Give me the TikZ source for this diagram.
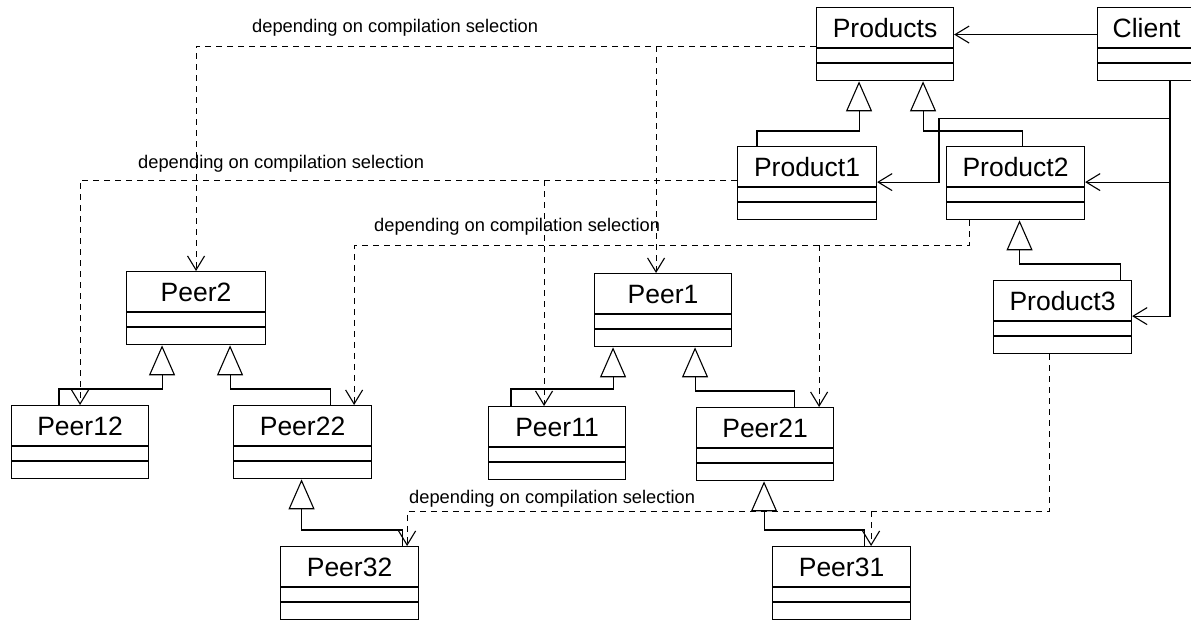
\documentclass[tikz,border=0pt]{standalone}
\usepackage{fontspec}
\setmainfont{Liberation Sans}
\usetikzlibrary{arrows.meta}

\tikzset{
  classname/.style={draw, line width=1.1pt, inner sep=0pt, minimum height=40pt,
    text height=30pt, text depth=10pt, font=\fontsize{26.5}{30}\selectfont},
  classpart/.style={draw, line width=1.1pt, inner sep=0pt},
  note/.style={inner sep=0pt, font=\fontsize{18.3}{22}\selectfont},
  inherit/.style={line width=1.1pt, -{Triangle[open, length=30pt, width=26pt]}},
  assoc/.style={line width=1.1pt, -{Straight Barb[length=14pt, width=17pt]}},
  dep/.style={line width=1.1pt, dash pattern=on 6pt off 5pt,
    -{Straight Barb[length=14pt, width=17pt]}}
}

\newcommand{\umlclass}[5]{%
  \node[classname, minimum width=#4pt, anchor=north west] (#1) at (#2,#3) {#5};
  \node[classpart, minimum width=#4pt, minimum height=14pt, anchor=north] (#1-m) at (#1.south) {};
  \node[classpart, minimum width=#4pt, minimum height=17pt, anchor=north] (#1-o) at (#1-m.south) {};
}

\begin{document}
\begin{tikzpicture}[x=1pt, y=-1pt]
\useasboundingbox (0,0) rectangle (1191,619);
\clip (0,0) rectangle (1191,619);
\fill[white] (0,0) rectangle (1191,619);

\umlclass{products}{816}{7}{137}{Products}
\umlclass{client}{1097}{7}{98}{Client}
\umlclass{product1}{737}{146}{139}{Product1}
\umlclass{product2}{946}{146}{138}{Product2}
\umlclass{product3}{993}{280}{138}{Product3}
\umlclass{peer2}{126}{271}{139}{Peer2}
\umlclass{peer12}{11}{405}{137}{Peer12}
\umlclass{peer22}{233}{405}{138}{Peer22}
\umlclass{peer1}{594}{273}{137}{Peer1}
\umlclass{peer11}{488}{406}{137}{Peer11}
\umlclass{peer21}{696}{407}{137}{Peer21}
\umlclass{peer32}{280}{546}{138}{Peer32}
\umlclass{peer31}{772}{546}{138}{Peer31}

\node[note, anchor=base west] (lbl1) at (252,32) {depending on compilation selection};
\node[note, anchor=base west] (lbl2) at (138,168) {depending on compilation selection};
\node[note, anchor=base west] (lbl3) at (374,231) {depending on compilation selection};
\node[note, anchor=base west] (lbl4) at (409,503) {depending on compilation selection};

% client
\coordinate (trunk) at ([xshift=73]client-o.south west);
\coordinate (p1in) at ([yshift=5]product1.south east);
\coordinate (p2in) at ([yshift=5]product2.south east);
\coordinate (bend) at ([xshift=-7]product2.south west);
\draw[assoc] ([yshift=-7]client.west) -- ([yshift=-7]products.east);
\draw[assoc] (trunk) |- ([yshift=5]product3.south east);
\draw[assoc] (trunk |- p2in) -- (p2in);
\draw[assoc] ([yshift=-37]trunk) -| (bend |- p1in) -- (p1in);

% inheritance
\draw[inherit] ([xshift=20]product1.north west) -- ++(0,-15) -| ([xshift=-26]products-o.south);
\draw[inherit] ([xshift=7]product2.north) -- ++(0,-15) -| ([xshift=38]products-o.south);
\draw[inherit] ([xshift=-12]product3.north east) -- ++(0,-16) -| ([xshift=4]product2-o.south);
\draw[inherit] ([xshift=48]peer12.north west) -- ++(0,-16) -| ([xshift=-34]peer2-o.south);
\draw[inherit] ([xshift=-42]peer22.north east) -- ++(0,-16) -| ([xshift=34]peer2-o.south);
\draw[inherit] ([xshift=23]peer11.north west) -- ++(0,-17) -| ([xshift=-50]peer1-o.south);
\draw[inherit] ([xshift=-40]peer21.north east) -- ++(0,-16) -| ([xshift=32]peer1-o.south);
\draw[inherit] ([xshift=-17]peer32.north east) -- ++(0,-16) -| ([xshift=-1]peer22-o.south);
\draw[inherit] ([xshift=-47]peer31.north east) -- ++(0,-16) -| ([xshift=-1]peer21-o.south);

% dependencies
\coordinate (d1) at ([yshift=2]products.south west);
\coordinate (t11) at ([xshift=-7]peer1.north);
\draw[dep] (d1) -| (peer2.north);
\draw[dep] (t11 |- d1) -- (t11);

\coordinate (d2) at ([yshift=7]product1.south west);
\coordinate (t21) at ([xshift=-13]peer11.north);
\draw[dep] (d2) -| (peer12.north);
\draw[dep] (t21 |- d2) -- (t21);

\coordinate (s3) at ([xshift=-46]product2-o.south);
\coordinate (d3) at ([yshift=-25]s3);
\coordinate (t31) at ([xshift=-18]peer22.north east);
\coordinate (t32) at ([xshift=-15]peer21.north east);
\draw[dep] (s3) -- (d3) -| (t31);
\draw[dep] (t32 |- d3) -- (t32);

\coordinate (s4) at ([xshift=-13]product3-o.south);
\coordinate (d4) at ([yshift=-157]s4);
\coordinate (t41) at ([xshift=-12]peer32.north east);
\coordinate (t42) at ([xshift=-40]peer31.north east);
\draw[dep] (s4) -- (d4) -| (t41);
\draw[dep] (t42 |- d4) -- (t42);
\end{tikzpicture}
\end{document}
